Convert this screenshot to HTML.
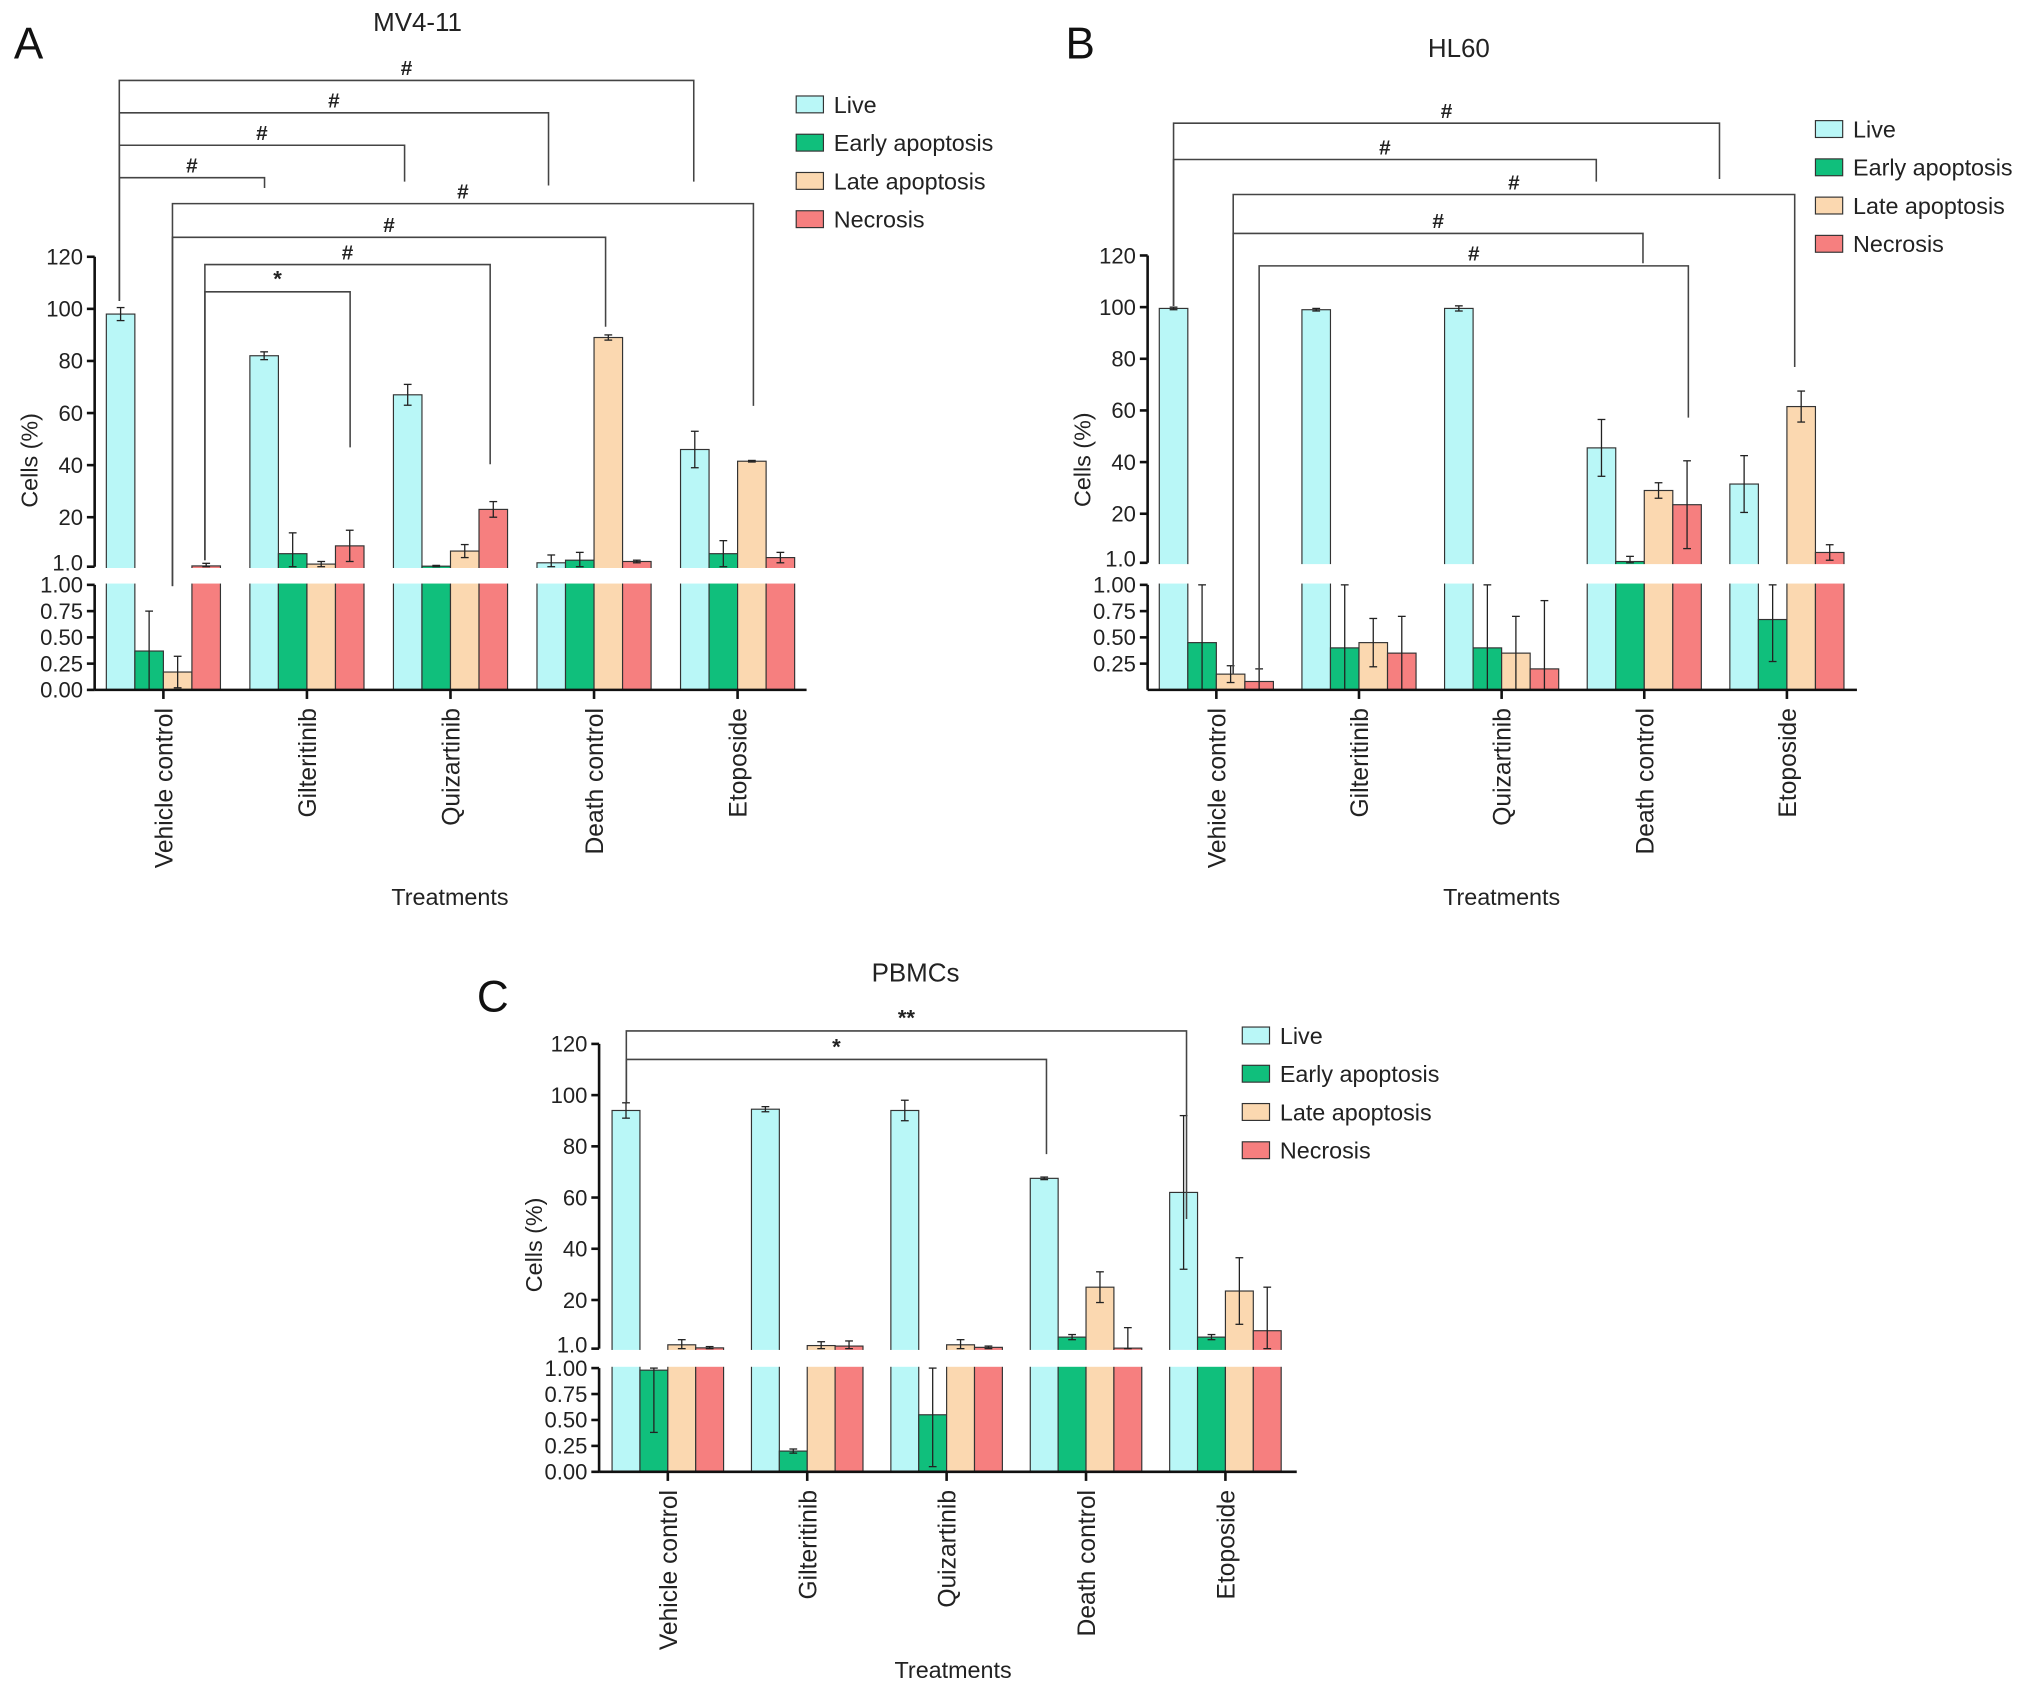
<!DOCTYPE html>
<html><head><meta charset="utf-8"><style>
html,body{margin:0;padding:0;background:#fff}
svg{display:block;font-family:"Liberation Sans",Arial,sans-serif}
</style></head><body>
<svg id="fig" width="2032" height="1691" viewBox="0 0 1567 1304" xmlns="http://www.w3.org/2000/svg"></svg>
<script>
const categories = ["Vehicle control","Gilteritinib","Quizartinib","Death control","Etoposide"];
const seriesNames = ["Live","Early apoptosis","Late apoptosis","Necrosis"];
const colors = ["#b9f7f7","#10bf7c","#fbd8b0","#f67f7f"];
// values [category][series]
const mvValues = [[98,0.37,0.17,1.3],[82,6,2,9],[67,1.2,7,23],[2.5,3.5,89,3],[46,6,41.5,4.5]];
const mvErrors = [[2.5,0.38,0.15,1],[1.5,8,1,6],[4,0.3,2.5,3],[3,3,1,0.5],[7,5,0.3,2]];
const hlValues = [[99.5,0.45,0.15,0.08],[99,0.4,0.45,0.35],[99.5,0.4,0.35,0.2],[45.5,1.5,29,23.5],[31.5,0.67,61.5,5]];
const hlErrors = [[0.5,0.6,0.08,0.12],[0.5,0.6,0.23,0.35],[1,0.6,0.35,0.65],[11,2,3,17],[11,0.4,6,3]];
const pbValues = [[94,0.98,2.5,1.3],[94.5,0.2,2.2,2],[94,0.55,2.5,1.5],[67.5,5.5,25,1.2],[62,5.5,23.5,8]];
const pbErrors = [[3,0.6,2,0.5],[1,0.02,1.5,2],[4,0.5,2,0.5],[0.5,1,6,8],[30,1,13,17]];
const upperTicks = [120,100,80,60,40,20];
const lowerTicksFull = [1.00,0.75,0.50,0.25,0.00];
const lowerTicksB = [1.00,0.75,0.50,0.25];

const NS="http://www.w3.org/2000/svg";
const svg=document.getElementById('fig');
function el(tag,attrs,parent,text){const e=document.createElementNS(NS,tag);for(const k in attrs)e.setAttribute(k,attrs[k]);if(text!==undefined)e.textContent=text;(parent||svg).appendChild(e);return e;}

function panel(cfg){
  const g=el('g',{});
  
  
  const yU=v=>cfg.y120+(120-v)*(cfg.y1-cfg.y120)/119;
  const yL=v=>cfg.y0-v*(cfg.y0-cfg.y100)/1;
  const cx=i=>cfg.c0+i*cfg.sp;
  const bw=cfg.bw;
  cfg.values.forEach((row,i)=>{
    row.forEach((v,s)=>{
      const x=cx(i)-2*bw+s*bw;
      const top = v>1 ? yU(v) : yL(v);
      const r=el('rect',{x:x,y:top,width:bw,height:cfg.y0-top,fill:colors[s],stroke:'#333','stroke-width':0.9},g);
      
      
      const e=cfg.errors[i][s];
      let a,b;
      if(v>1){a=yU(v+e);b=yU(Math.max(v-e,1));}else{a=yL(Math.min(v+e,1));b=yL(Math.max(v-e,0));}
      const xm=x+bw/2;
      el('line',{x1:xm,y1:a,x2:xm,y2:b,stroke:'#222','stroke-width':1},g);
      el('line',{x1:xm-3,y1:a,x2:xm+3,y2:a,stroke:'#222','stroke-width':1},g);
      el('line',{x1:xm-3,y1:b,x2:xm+3,y2:b,stroke:'#222','stroke-width':1},g);
    });
  });
  el('rect',{x:cfg.ax-6,y:cfg.y1+1,width:cfg.xEnd-cfg.ax+8,height:cfg.y100-cfg.y1-2,fill:'#fff'},g);
  el('line',{x1:cfg.ax,y1:cfg.y120,x2:cfg.ax,y2:cfg.y1,stroke:'#111','stroke-width':2},g);
  el('line',{x1:cfg.ax,y1:cfg.y100,x2:cfg.ax,y2:cfg.y0,stroke:'#111','stroke-width':2},g);
  el('line',{x1:cfg.ax,y1:cfg.y0,x2:cfg.xEnd,y2:cfg.y0,stroke:'#111','stroke-width':2},g);
  upperTicks.forEach(t=>{
    el('line',{x1:cfg.ax-6,y1:yU(t),x2:cfg.ax,y2:yU(t),stroke:'#111','stroke-width':2},g);
    el('text',{x:cfg.ax-9,y:yU(t)+6,'text-anchor':'end','font-size':17,fill:'#222'},g,String(t));
  });
  el('line',{x1:cfg.ax-6,y1:cfg.y1,x2:cfg.ax,y2:cfg.y1,stroke:'#111','stroke-width':2},g);
  el('text',{x:cfg.ax-9,y:cfg.y1+3,'text-anchor':'end','font-size':17,fill:'#222'},g,'1.0');
  cfg.lowTicks.forEach(t=>{
    el('line',{x1:cfg.ax-6,y1:yL(t),x2:cfg.ax,y2:yL(t),stroke:'#111','stroke-width':2},g);
    el('text',{x:cfg.ax-9,y:yL(t)+6,'text-anchor':'end','font-size':17,fill:'#222'},g,t.toFixed(2));
  });
  categories.forEach((c,i)=>{
    el('line',{x1:cx(i),y1:cfg.y0,x2:cx(i),y2:cfg.y0+7,stroke:'#111','stroke-width':2},g);
    const t=el('text',{x:0,y:0,transform:`translate(${cx(i)+7},${cfg.y0+14}) rotate(-90)`,'text-anchor':'end','font-size':19,fill:'#222'},g,c);
    
    
  });
  const yt=el('text',{x:0,y:0,transform:`translate(${cfg.ax-44},${(cfg.y120+cfg.y0)/2-10}) rotate(-90)`,'text-anchor':'middle','font-size':18,fill:'#222'},g,'Cells (%)');
  
  
  const xt=el('text',{x:cfg.xtX,y:cfg.xtY,'text-anchor':'middle','font-size':18,fill:'#222'},g,'Treatments');
  
  
  const tt=el('text',{x:cfg.tX,y:cfg.tY,'text-anchor':'middle','font-size':20,fill:'#222'},g,cfg.title);
  
  
  const pl=el('text',{x:cfg.lX,y:cfg.lY,'text-anchor':'middle','font-size':34,fill:'#111'},g,cfg.letter);
  
  
  seriesNames.forEach((n,s)=>{
    const y=cfg.legY+s*29.5;
    const r=el('rect',{x:cfg.legX,y:y-7,width:21,height:13,fill:colors[s],stroke:'#333','stroke-width':0.9},g);
    
    
    const t=el('text',{x:cfg.legX+29,y:y+6,'font-size':18,fill:'#222'},g,n);
    
    
  });
  cfg.brackets.forEach(b=>{
    const [x1,x2,y,l1,l2,lab]=b;
    el('polyline',{points:`${x1},${l1} ${x1},${y} ${x2},${y} ${x2},${l2}`,fill:'none',stroke:'#444','stroke-width':1.2},g);
    const t=el('text',{x:(x1+x2)/2,y:y-4,'text-anchor':'middle','font-size':lab==='#'?16:17,'font-weight':'bold',fill:'#222'},g,lab);
    
    
  });
}

panel({name:'panel-a-mv4-11',values:mvValues,errors:mvErrors,ax:73,xEnd:622,y120:198,y1:437,y100:451,y0:532,c0:126,sp:110.7,bw:22,lowTicks:lowerTicksFull,
  xtX:347,xtY:698,tX:322,tY:24,title:'MV4-11',lX:22,lY:45,letter:'A',legX:614,legY:81,
  brackets:[[92,535,62,232,140,'#'],[92,423,87,232,143,'#'],[92,312,112,232,140,'#'],[92,204,137,232,145,'#'],
    [133,581,157,452,313,'#'],[133,467,183,452,252,'#'],[158,378,204,432,358,'#'],[158,270,225,432,345,'*']]});
panel({name:'panel-b-hl60',values:hlValues,errors:hlErrors,ax:885,xEnd:1432,y120:197,y1:434,y100:451,y0:532,c0:938,sp:110,bw:22,lowTicks:lowerTicksB,
  xtX:1158,xtY:698,tX:1125,tY:44,title:'HL60',lX:833,lY:45,letter:'B',legX:1400,legY:100,
  brackets:[[905,1326,95,236,138,'#'],[905,1231,123,236,140,'#'],[951,1384,150,520,283,'#'],[951,1267,180,520,203,'#'],[971,1302,205,525,322,'#']]});
panel({name:'panel-c-pbmcs',values:pbValues,errors:pbErrors,ax:462,xEnd:1000,y120:805,y1:1040,y100:1055,y0:1135,c0:515,sp:107.5,bw:21.5,lowTicks:lowerTicksFull,
  xtX:735,xtY:1294,tX:706,tY:757,title:'PBMCs',lX:380,lY:780,letter:'C',legX:958,legY:799,
  brackets:[[483,915,795,850,940,'**'],[483,807,817,850,890,'*']]});
</script>
</body></html>
